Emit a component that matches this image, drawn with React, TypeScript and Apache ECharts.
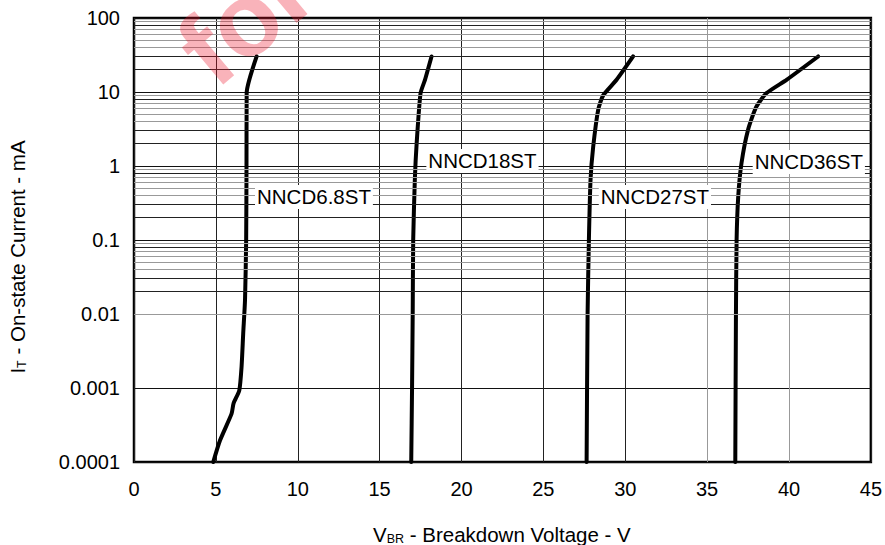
import React, { useEffect, useRef } from 'react';
import * as echarts from 'echarts';

// ---- data ----
const seriesNames = ['NNCD6.8ST', 'NNCD18ST', 'NNCD27ST', 'NNCD36ST'];

// [breakdown voltage V, on-state current mA]
const nncd68: [number, number][] = [
  [4.84, 0.0001], [5.25, 0.000195], [5.96, 0.00045], [6.08, 0.00062], [6.43, 0.00093],
  [6.57, 0.00195], [6.67, 0.0055], [6.78, 0.0155], [6.85, 0.1], [6.87, 1], [6.88, 9.66], [7.49, 30.2],
];
const nncd18: [number, number][] = [
  [16.93, 0.0001], [16.98, 0.001], [17.02, 0.01], [17.05, 0.1], [17.15, 0.65], [17.26, 2.0],
  [17.5, 9.66], [17.77, 14.6], [18.17, 30.2],
];
const nncd27: [number, number][] = [
  [27.64, 0.0001], [27.7, 0.01], [27.78, 0.1], [27.88, 0.65], [28.04, 1.8], [28.35, 5.8],
  [28.65, 9.0], [29.47, 14.6], [30.48, 30.2],
];
const nncd36: [number, number][] = [
  [36.72, 0.0001], [36.76, 0.01], [36.8, 0.1], [36.9, 0.39], [37.1, 1.1], [37.5, 3.1],
  [38.0, 6.3], [38.63, 9.66], [39.85, 14.6], [41.78, 30.2],
];
const curves = [nncd68, nncd18, nncd27, nncd36];

const xMin = 0;
const xMax = 45;
const xInterval = 5;
const yTickLabels = ['0.0001', '0.001', '0.01', '0.1', '1', '10', '100'];
const yMinExp = -4;
const decades = [0.0001, 0.001, 0.01, 0.1, 1, 10];
const minorSteps = [2, 3, 4, 5, 6, 7, 8, 9];

// ---- layout / style ----
const FONT = '"Liberation Sans", Arial, Helvetica, sans-serif';
const labelAnchors: [number, number][] = [
  [10.99, 0.382], [21.28, 1.17], [31.81, 0.382], [41.21, 1.135],
];
const minorColor = (m: number) => (m === 2 || m === 3 || m === 8 ? '#222' : '#999');
const vLineColors = ['#222', '#222', '#222', '#222', '#222', '#222', '#222', '#999', '#999', '#222'];

export default function App() {
  const ref = useRef<HTMLDivElement>(null);
  useEffect(() => {
    if (!ref.current) return;
    const chart = echarts.init(ref.current, undefined, { renderer: 'svg' });

    const minorData: any[] = [];
    decades.forEach((d) => {
      minorSteps.forEach((m) => {
        minorData.push({ yAxis: d * m, lineStyle: { color: minorColor(m), width: 1, type: 'solid' } });
      });
    });

    const titleRich = {
      a: { fontSize: 20.5, fontFamily: FONT, fill: '#000', lineHeight: 22, verticalAlign: 'bottom' },
      b: { fontSize: 12.5, fontFamily: FONT, fill: '#000', lineHeight: 12, verticalAlign: 'bottom' },
    };

    const option: any = {
      animation: false,
      backgroundColor: '#fff',
      textStyle: { fontFamily: FONT },
      grid: {
        left: 134, right: 14, top: 18, bottom: 83,
        show: true, borderColor: '#000', borderWidth: 2.5, backgroundColor: 'transparent',
      },
      xAxis: {
        type: 'value', min: xMin, max: xMax, interval: xInterval,
        axisLine: { show: false }, axisTick: { show: false },
        axisLabel: { fontSize: 20, color: '#000', margin: 17, fontFamily: FONT },
        splitLine: { show: true, lineStyle: { color: vLineColors, width: 1 } },
      },
      yAxis: {
        type: 'log', logBase: 10, min: 0.0001, max: 100,
        axisLine: { show: false }, axisTick: { show: false },
        axisLabel: {
          fontSize: 20, color: '#000', margin: 14, fontFamily: FONT,
          formatter: (v: number) => {
            const e = Math.round(Math.log10(v));
            return yTickLabels[e - yMinExp] ?? '';
          },
        },
        splitLine: { show: true, lineStyle: { color: '#111', width: 1 } },
      },
      series: [
        {
          type: 'line', name: 'grid', data: [[xMin, 0.0001]], showSymbol: false, symbol: 'none',
          lineStyle: { width: 0 }, silent: true, z: 1,
          markLine: {
            silent: true, symbol: ['none', 'none'], label: { show: false },
            animation: false, data: minorData,
          },
        },
        ...curves.map((c, i) => ({
          type: 'line', name: seriesNames[i], data: c, showSymbol: false, symbol: 'none',
          smooth: 0.2,
          lineStyle: { color: '#000', width: 4, cap: 'round', join: 'round' },
          z: 3,
          markPoint: {
            symbol: 'rect', symbolSize: 1, itemStyle: { color: 'rgba(0,0,0,0)' },
            silent: true, animation: false,
            label: {
              show: true, position: 'inside', formatter: seriesNames[i],
              color: '#000', fontSize: 20.5, fontFamily: FONT,
              backgroundColor: '#fff', padding: [2, 2, 1, 2],
            },
            data: [{ coord: labelAnchors[i], value: seriesNames[i] }],
          },
        })),
      ],
      graphic: [
        {
          type: 'text', x: 373, y: 534, z: 10,
          style: {
            text: '{a|V}{b|BR}{a| - Breakdown Voltage - V}',
            textAlign: 'left', textVerticalAlign: 'middle',
            rich: titleRich,
          },
        },
        {
          type: 'text', x: 17, y: 257, rotation: Math.PI / 2, z: 10,
          style: {
            text: '{a|I}{b|T}{a| - On-state Current - mA}',
            textAlign: 'center', textVerticalAlign: 'middle',
            rich: titleRich,
          },
        },
        {
          type: 'text', x: 226, y: 103, rotation: (40 * Math.PI) / 180, z: 100, silent: true,
          style: {
            text: 'for',
            font: 'bold 104px "Liberation Sans", Arial, sans-serif',
            fill: 'rgba(235,20,40,0.32)',
            textAlign: 'left', textVerticalAlign: 'bottom',
          },
        },
      ],
    };
    chart.setOption(option);
    return () => chart.dispose();
  }, []);
  return <div ref={ref} style={{ position: 'absolute', left: 0, top: 0, width: 885, height: 545 }} />;
}
